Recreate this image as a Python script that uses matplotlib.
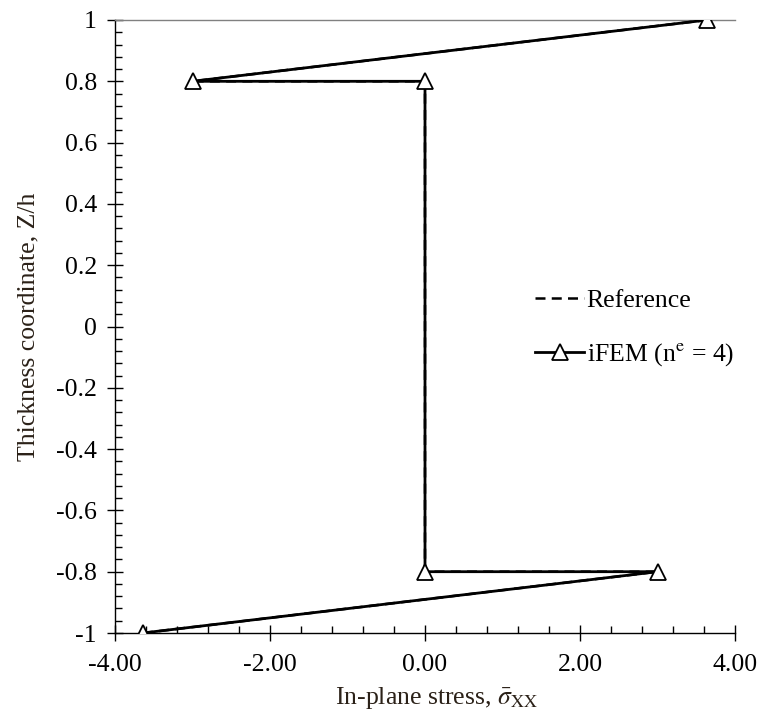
import matplotlib
matplotlib.use("Agg")
import matplotlib.pyplot as plt
from matplotlib.ticker import MultipleLocator, FixedLocator, FuncFormatter

plt.rcParams['font.family'] = ['Liberation Serif', 'DejaVu Serif']
plt.rcParams['mathtext.fontset'] = 'stix'

# Through-thickness stress profile
z_ref = [-1.0, -0.8, -0.8, 0.8, 0.8, 1.0]
s_ref = [-3.64, 3.0, 0.0, 0.0, -3.0, 3.64]

z_ifem = [-1.0, -0.8, -0.8, 0.8, 0.8, 1.0]
s_ifem = [-3.64, 3.0, 0.0, 0.0, -3.0, 3.64]

x_ticks = [-4.0, -2.0, 0.0, 2.0, 4.0]
y_ticks = [-1.0, -0.8, -0.6, -0.4, -0.2, 0.0, 0.2, 0.4, 0.6, 0.8, 1.0]

FS = 18.5

fig = plt.figure(figsize=(7.66, 7.18), dpi=100)
ax = fig.add_axes([115 / 766, 1 - 633 / 718, 620 / 766, 613 / 718])

ax.plot(s_ref, z_ref, color='black', linestyle=(0, (4, 2.5)), linewidth=1.8,
        label='Reference', zorder=3)
ax.plot(s_ifem, z_ifem, color='black', linestyle='-', linewidth=2.0,
        marker='^', markersize=11, markerfacecolor='white',
        markeredgecolor='black', markeredgewidth=1.3,
        label='iFEM (n$^{\\mathrm{e}}$ = 4)', zorder=4)

ax.set_xlim(-4, 4)
ax.set_ylim(-1, 1)
ax.xaxis.set_major_locator(FixedLocator(x_ticks))
ax.yaxis.set_major_locator(FixedLocator(y_ticks))
ax.xaxis.set_minor_locator(MultipleLocator(0.4))
ax.yaxis.set_minor_locator(MultipleLocator(0.04))
ax.xaxis.set_major_formatter(FuncFormatter(lambda v, p: f"{v:.2f}"))
ax.yaxis.set_major_formatter(FuncFormatter(lambda v, p: f"{v:g}" if abs(v) > 1e-9 else "0"))

ax.tick_params(which='major', direction='inout', length=12, width=1,
               labelsize=FS, colors='black')
ax.tick_params(axis='x', which='major', pad=9)
ax.tick_params(axis='y', which='major', pad=7)
ax.tick_params(which='minor', direction='in', length=5, width=1)

for side in ('left', 'bottom'):
    ax.spines[side].set_color('black')
    ax.spines[side].set_linewidth(1.0)
ax.spines['top'].set_color('#808080')
ax.spines['top'].set_linewidth(1.0)
ax.spines['right'].set_visible(False)

ax.set_xlabel(r'In-plane stress, $\bar{\sigma}_{\mathrm{XX}}$', fontsize=FS,
              color='#2b2118', labelpad=6)
ax.xaxis.set_label_coords(0.518, -0.085)
ax.set_ylabel('Thickness coordinate, Z/h', fontsize=FS, color='#2b2118',
              labelpad=12)

ax.legend(loc='center left', bbox_to_anchor=(0.678, 0.497), frameon=False,
          fontsize=FS, handlelength=1.9, handletextpad=0.1, labelspacing=1.15,
          borderpad=0, borderaxespad=0)

fig.savefig('out.png', dpi=100)
